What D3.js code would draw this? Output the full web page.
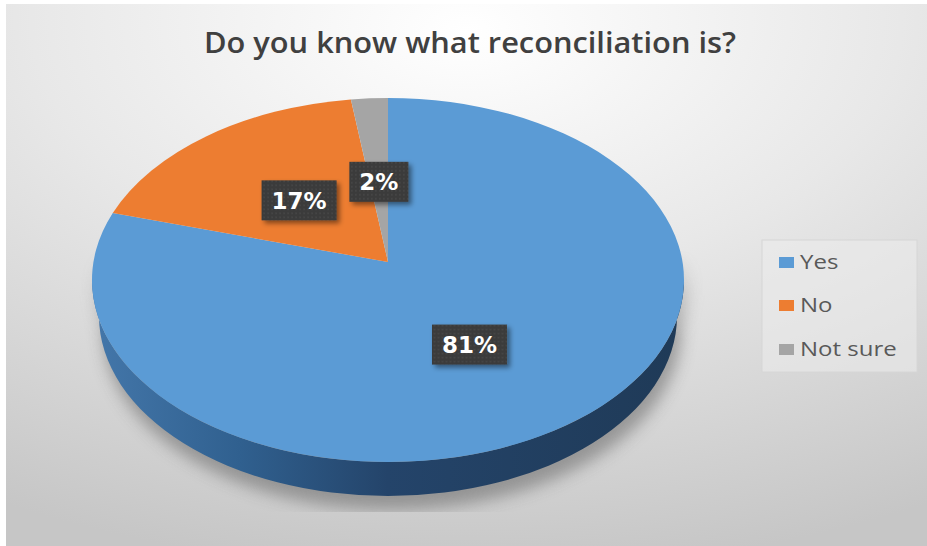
<!DOCTYPE html>
<html>
<head>
<meta charset="utf-8">
<script src="https://cdn.jsdelivr.net/npm/d3@7"></script>
<style>
  html, body { margin: 0; padding: 0; background: #ffffff; }
  svg { display: block; }
</style>
</head>
<body>
<svg id="chart" width="927" height="546"></svg>
<script>
// Survey answers
const categories = ["Yes", "No", "Not sure"];
const values = [81, 17, 2];
const valueLabels = ["81%", "17%", "2%"];
const colors = ["#5b9bd5", "#ed7d31", "#a5a5a5"];
const titleText = "Do you know what reconciliation is?";

const svg = d3.select("#chart");
const W = 927, H = 546;

// Pie geometry (tilted 3D disc)
const cx = 388, cy = 280;      // ellipse centre of the top face
const rx = 296, ry = 182;      // radii of the top face
const rx2 = 289, ry2 = 180;    // radii of the bottom rim (slightly smaller: perspective)
const apex = [388, 262];       // point where the slices meet
const depth = 36;              // thickness of the disc

const defs = svg.append("defs");

// Chart background: light centre at the top fading to grey
const bg = defs.append("radialGradient").attr("id", "bgGrad")
  .attr("cx", "50%").attr("cy", "0%").attr("r", "105%").attr("fx", "50%").attr("fy", "5%");
bg.append("stop").attr("offset", "0").attr("stop-color", "#ffffff");
bg.append("stop").attr("offset", "0.45").attr("stop-color", "#e8e8e8");
bg.append("stop").attr("offset", "1").attr("stop-color", "#c6c6c6");

// Side wall of the disc
const side = defs.append("linearGradient").attr("id", "sideGrad")
  .attr("gradientUnits", "userSpaceOnUse")
  .attr("x1", cx - rx).attr("y1", 0).attr("x2", cx + rx).attr("y2", 0);
side.append("stop").attr("offset", "0").attr("stop-color", "#4477aa");
side.append("stop").attr("offset", "0.25").attr("stop-color", "#30608f");
side.append("stop").attr("offset", "0.5").attr("stop-color", "#24446a");
side.append("stop").attr("offset", "1").attr("stop-color", "#1f3a57");

// Soft shadow under the disc, fading in towards the lower half and cut at the plot floor
const blur = defs.append("filter").attr("id", "shadowBlur")
  .attr("x", "-20%").attr("y", "-20%").attr("width", "140%").attr("height", "140%");
blur.append("feGaussianBlur").attr("stdDeviation", 8);

const fade = defs.append("linearGradient").attr("id", "shadowFade")
  .attr("gradientUnits", "userSpaceOnUse")
  .attr("x1", 0).attr("y1", 250).attr("x2", 0).attr("y2", 340);
fade.append("stop").attr("offset", "0").attr("stop-color", "#000");
fade.append("stop").attr("offset", "1").attr("stop-color", "#fff");
defs.append("mask").attr("id", "shadowMask")
  .attr("maskUnits", "userSpaceOnUse").attr("x", 0).attr("y", 0).attr("width", W).attr("height", H)
  .append("rect").attr("x", 0).attr("y", 0).attr("width", W).attr("height", 512)
  .attr("fill", "url(#shadowFade)");

// Data label boxes: dark dotted fill with a drop shadow
const pat = defs.append("pattern").attr("id", "dots")
  .attr("patternUnits", "userSpaceOnUse").attr("width", 4).attr("height", 4);
pat.append("rect").attr("width", 4).attr("height", 4).attr("fill", "#3a3a3a");
pat.append("circle").attr("cx", 1).attr("cy", 1).attr("r", 0.7).attr("fill", "#565656");

const ds = defs.append("filter").attr("id", "labelShadow")
  .attr("x", "-30%").attr("y", "-30%").attr("width", "170%").attr("height", "170%");
ds.append("feDropShadow").attr("dx", 3).attr("dy", 3).attr("stdDeviation", 2.5)
  .attr("flood-color", "#000").attr("flood-opacity", 0.45);

// Background panel
svg.append("rect").attr("x", 6).attr("y", 4).attr("width", W - 6).attr("height", H - 4)
  .attr("fill", "url(#bgGrad)");

// Title
svg.append("text")
  .attr("x", 470).attr("y", 53)
  .attr("text-anchor", "middle")
  .attr("font-family", "'Open Sans', sans-serif")
  .attr("font-weight", 600)
  .attr("font-size", 28)
  .attr("fill", "#404040")
  .attr("textLength", 532)
  .attr("lengthAdjust", "spacingAndGlyphs")
  .text(titleText);

// Points on the top and bottom rims for an angle measured clockwise from 12 o'clock
const rimTop = a => [cx + rx * Math.sin(a), cy - ry * Math.cos(a)];
const rimBot = a => [cx + rx2 * Math.sin(a), cy + depth - ry2 * Math.cos(a)];

// Shadow
const disc = `M${cx - rx},${cy} A${rx},${ry} 0 1 1 ${cx + rx},${cy} L${cx + rx2},${cy + depth}` +
  ` A${rx2},${ry2} 0 1 1 ${cx - rx2},${cy + depth} Z`;
svg.append("g").attr("mask", "url(#shadowMask)")
  .append("path").attr("d", disc)
  .attr("transform", "translate(4,14)")
  .attr("fill", "#6d6d6d").attr("opacity", 0.6)
  .attr("filter", "url(#shadowBlur)");

const pie = d3.pie().sort(null).value(d => d)(values);

// Visible side wall: the front half of the rim (angles between 90° and 270°)
const sideG = svg.append("g");
pie.forEach((p, i) => {
  const a0 = Math.max(p.startAngle, Math.PI / 2);
  const a1 = Math.min(p.endAngle, 3 * Math.PI / 2);
  if (a1 <= a0) return;
  const t0 = rimTop(a0), t1 = rimTop(a1), b0 = rimBot(a0), b1 = rimBot(a1);
  const large = (a1 - a0) > Math.PI ? 1 : 0;
  const d = `M${t0} A${rx},${ry} 0 ${large} 1 ${t1} L${b1} A${rx2},${ry2} 0 ${large} 0 ${b0} Z`;
  sideG.append("path").attr("d", d)
    .attr("fill", i === 0 ? "url(#sideGrad)" : d3.color(colors[i]).darker(1.2));
});

// Top face slices
const sliceG = svg.append("g");
pie.forEach((p, i) => {
  const s = rimTop(p.startAngle), e = rimTop(p.endAngle);
  const large = (p.endAngle - p.startAngle) > Math.PI ? 1 : 0;
  const d = `M${apex} L${s} A${rx},${ry} 0 ${large} 1 ${e} Z`;
  sliceG.append("path").attr("d", d).attr("fill", colors[i]);
});

// Data labels
const labelG = svg.append("g");
pie.forEach((p, i) => {
  const mid = (p.startAngle + p.endAngle) / 2;
  const edge = rimTop(mid);
  const f = 0.49;
  const lx = apex[0] + (edge[0] - apex[0]) * f;
  const ly = apex[1] + (edge[1] - apex[1]) * f;
  const g = labelG.append("g").attr("transform", `translate(${lx},${ly})`);
  const box = g.append("rect").attr("fill", "url(#dots)").attr("filter", "url(#labelShadow)");
  const t = g.append("text")
    .attr("text-anchor", "middle")
    .attr("y", 8.5)
    .attr("font-family", "'DejaVu Sans', Verdana, sans-serif")
    .attr("font-weight", "bold")
    .attr("font-size", 23)
    .attr("fill", "#ffffff")
    .text(valueLabels[i]);
  const w = t.node().getComputedTextLength() + 20;
  box.attr("x", -w / 2).attr("y", -20).attr("width", w).attr("height", 40);
});

// Legend
const legend = svg.append("g");
legend.append("rect")
  .attr("x", 762).attr("y", 240).attr("width", 155).attr("height", 132)
  .attr("fill", "#ececec").attr("fill-opacity", 0.55)
  .attr("stroke", "#d6d6d6").attr("stroke-width", 1);
const itemY = [262, 305, 349];
categories.forEach((c, i) => {
  legend.append("rect")
    .attr("x", 779).attr("y", itemY[i] - 5).attr("width", 15).attr("height", 11)
    .attr("fill", colors[i]);
  legend.append("g")
    .attr("transform", `translate(800,${itemY[i] + 7}) scale(1.2,1)`)
    .append("text")
    .attr("font-family", "'Open Sans', sans-serif")
    .attr("font-size", 20)
    .attr("fill", "#595959")
    .text(c);
});
</script>
</body>
</html>
